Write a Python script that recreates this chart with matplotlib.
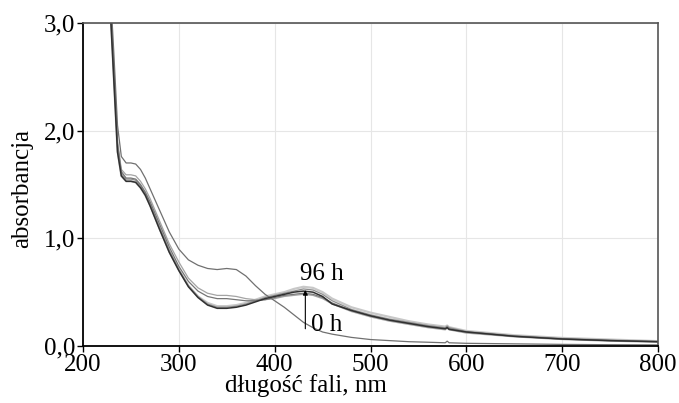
# UV-Vis spectra recorded over time (0 h -> 96 h)

import matplotlib
matplotlib.use("Agg")
import matplotlib.pyplot as plt

plt.rcParams['font.family'] = ['Liberation Serif', 'DejaVu Serif']

wl = [228, 232, 236, 240, 245, 250, 255, 260, 265, 270, 280, 290, 300, 310, 320,
      330, 340, 350, 360, 370, 380, 390, 400, 410, 420, 430, 440, 450, 460, 480,
      500, 520, 540, 560, 578, 580, 582, 600, 650, 700, 750, 800]

a_0h = [3.40, 2.75, 2.05, 1.76, 1.70, 1.70, 1.69, 1.64, 1.56, 1.46, 1.26, 1.06, 0.90, 0.80, 0.75,
        0.72, 0.71, 0.72, 0.71, 0.65, 0.56, 0.48, 0.42, 0.36, 0.29, 0.22, 0.17, 0.13, 0.11, 0.08,
        0.06, 0.05, 0.04, 0.035, 0.03, 0.045, 0.03, 0.025, 0.02, 0.015, 0.012, 0.01]
a_2h = [3.30, 2.60, 1.90, 1.64, 1.59, 1.59, 1.58, 1.53, 1.46, 1.37, 1.16, 0.95, 0.78, 0.63, 0.54,
        0.49, 0.47, 0.47, 0.46, 0.44, 0.43, 0.43, 0.44, 0.46, 0.47, 0.48, 0.47, 0.44, 0.39, 0.32,
        0.27, 0.23, 0.20, 0.17, 0.15, 0.165, 0.15, 0.12, 0.085, 0.06, 0.045, 0.035]
a_4h = [3.30, 2.58, 1.88, 1.62, 1.56, 1.56, 1.55, 1.50, 1.43, 1.34, 1.13, 0.92, 0.74, 0.60, 0.51,
        0.46, 0.44, 0.44, 0.43, 0.42, 0.42, 0.43, 0.45, 0.47, 0.48, 0.49, 0.48, 0.45, 0.40, 0.33,
        0.28, 0.24, 0.21, 0.18, 0.16, 0.175, 0.16, 0.13, 0.09, 0.065, 0.05, 0.04]
a_24h = [3.25, 2.55, 1.85, 1.60, 1.55, 1.55, 1.54, 1.49, 1.42, 1.32, 1.10, 0.89, 0.71, 0.56, 0.46,
         0.39, 0.36, 0.36, 0.37, 0.39, 0.42, 0.45, 0.47, 0.49, 0.51, 0.53, 0.52, 0.48, 0.42, 0.34,
         0.29, 0.25, 0.22, 0.19, 0.17, 0.185, 0.17, 0.135, 0.095, 0.07, 0.055, 0.042]
a_48h = [3.25, 2.52, 1.82, 1.58, 1.53, 1.53, 1.52, 1.47, 1.40, 1.31, 1.09, 0.88, 0.71, 0.56, 0.46,
         0.40, 0.37, 0.37, 0.38, 0.40, 0.43, 0.46, 0.48, 0.50, 0.53, 0.55, 0.54, 0.50, 0.44, 0.36,
         0.31, 0.27, 0.23, 0.20, 0.18, 0.19, 0.175, 0.14, 0.10, 0.075, 0.06, 0.045]
a_96h = [3.20, 2.50, 1.80, 1.58, 1.53, 1.53, 1.52, 1.47, 1.40, 1.30, 1.08, 0.87, 0.70, 0.55, 0.45,
         0.38, 0.35, 0.35, 0.36, 0.38, 0.41, 0.44, 0.46, 0.48, 0.50, 0.51, 0.50, 0.46, 0.39, 0.33,
         0.28, 0.24, 0.21, 0.18, 0.16, 0.17, 0.155, 0.13, 0.09, 0.065, 0.05, 0.04]

series = [a_48h, a_2h, a_24h, a_4h, a_0h, a_96h]
colors = ['#c8c8c8', '#a4a4a4', '#8e8e8e', '#767676', '#707070', '#303030']
widths = [1.6, 0.9, 0.9, 0.9, 0.9, 1.1]

xticks = [200, 300, 400, 500, 600, 700, 800]
yticks = [0.0, 1.0, 2.0, 3.0]
ytick_labels = ['0,0', '1,0', '2,0', '3,0']

fig = plt.figure(figsize=(6.79, 4.03), dpi=100)
ax = fig.add_axes([83 / 679, 1 - 346 / 403, (658 - 83) / 679, (346 - 23) / 403])

for ys, c, w in zip(series, colors, widths):
    ax.plot(wl, ys, color=c, lw=w)

# arrow 0 h -> 96 h
ax.annotate('', xy=(432, 0.52), xytext=(432, 0.16),
            arrowprops=dict(arrowstyle='-|>', color='black', lw=0.8,
                            mutation_scale=7, shrinkA=0, shrinkB=0))
ax.text(426, 0.61, '96 h', fontsize=18, ha='left', va='baseline')
ax.text(438, 0.14, '0 h', fontsize=18, ha='left', va='baseline')

ax.set_xlim(200, 800)
ax.set_ylim(0, 3)
ax.set_xticks(xticks)
ax.set_yticks(yticks)
ax.set_yticklabels(ytick_labels)
ax.tick_params(labelsize=18, length=4, width=1, direction='out', pad=1.5)
ax.grid(True, color='#e6e6e6', lw=0.8)
ax.set_axisbelow(True)

for s in ['left', 'bottom']:
    ax.spines[s].set_color('black')
    ax.spines[s].set_linewidth(1.3)
for s in ['top', 'right']:
    ax.spines[s].set_color('#555555')
    ax.spines[s].set_linewidth(1.2)

fig.text(306 / 679, 1 - 392 / 403, 'długość fali, nm', fontsize=18,
         ha='center', va='baseline')
fig.text(22 / 679, 1 - 189 / 403, 'absorbancja', fontsize=18,
         ha='center', va='center', rotation=90)

fig.savefig('out.png', dpi=100)
